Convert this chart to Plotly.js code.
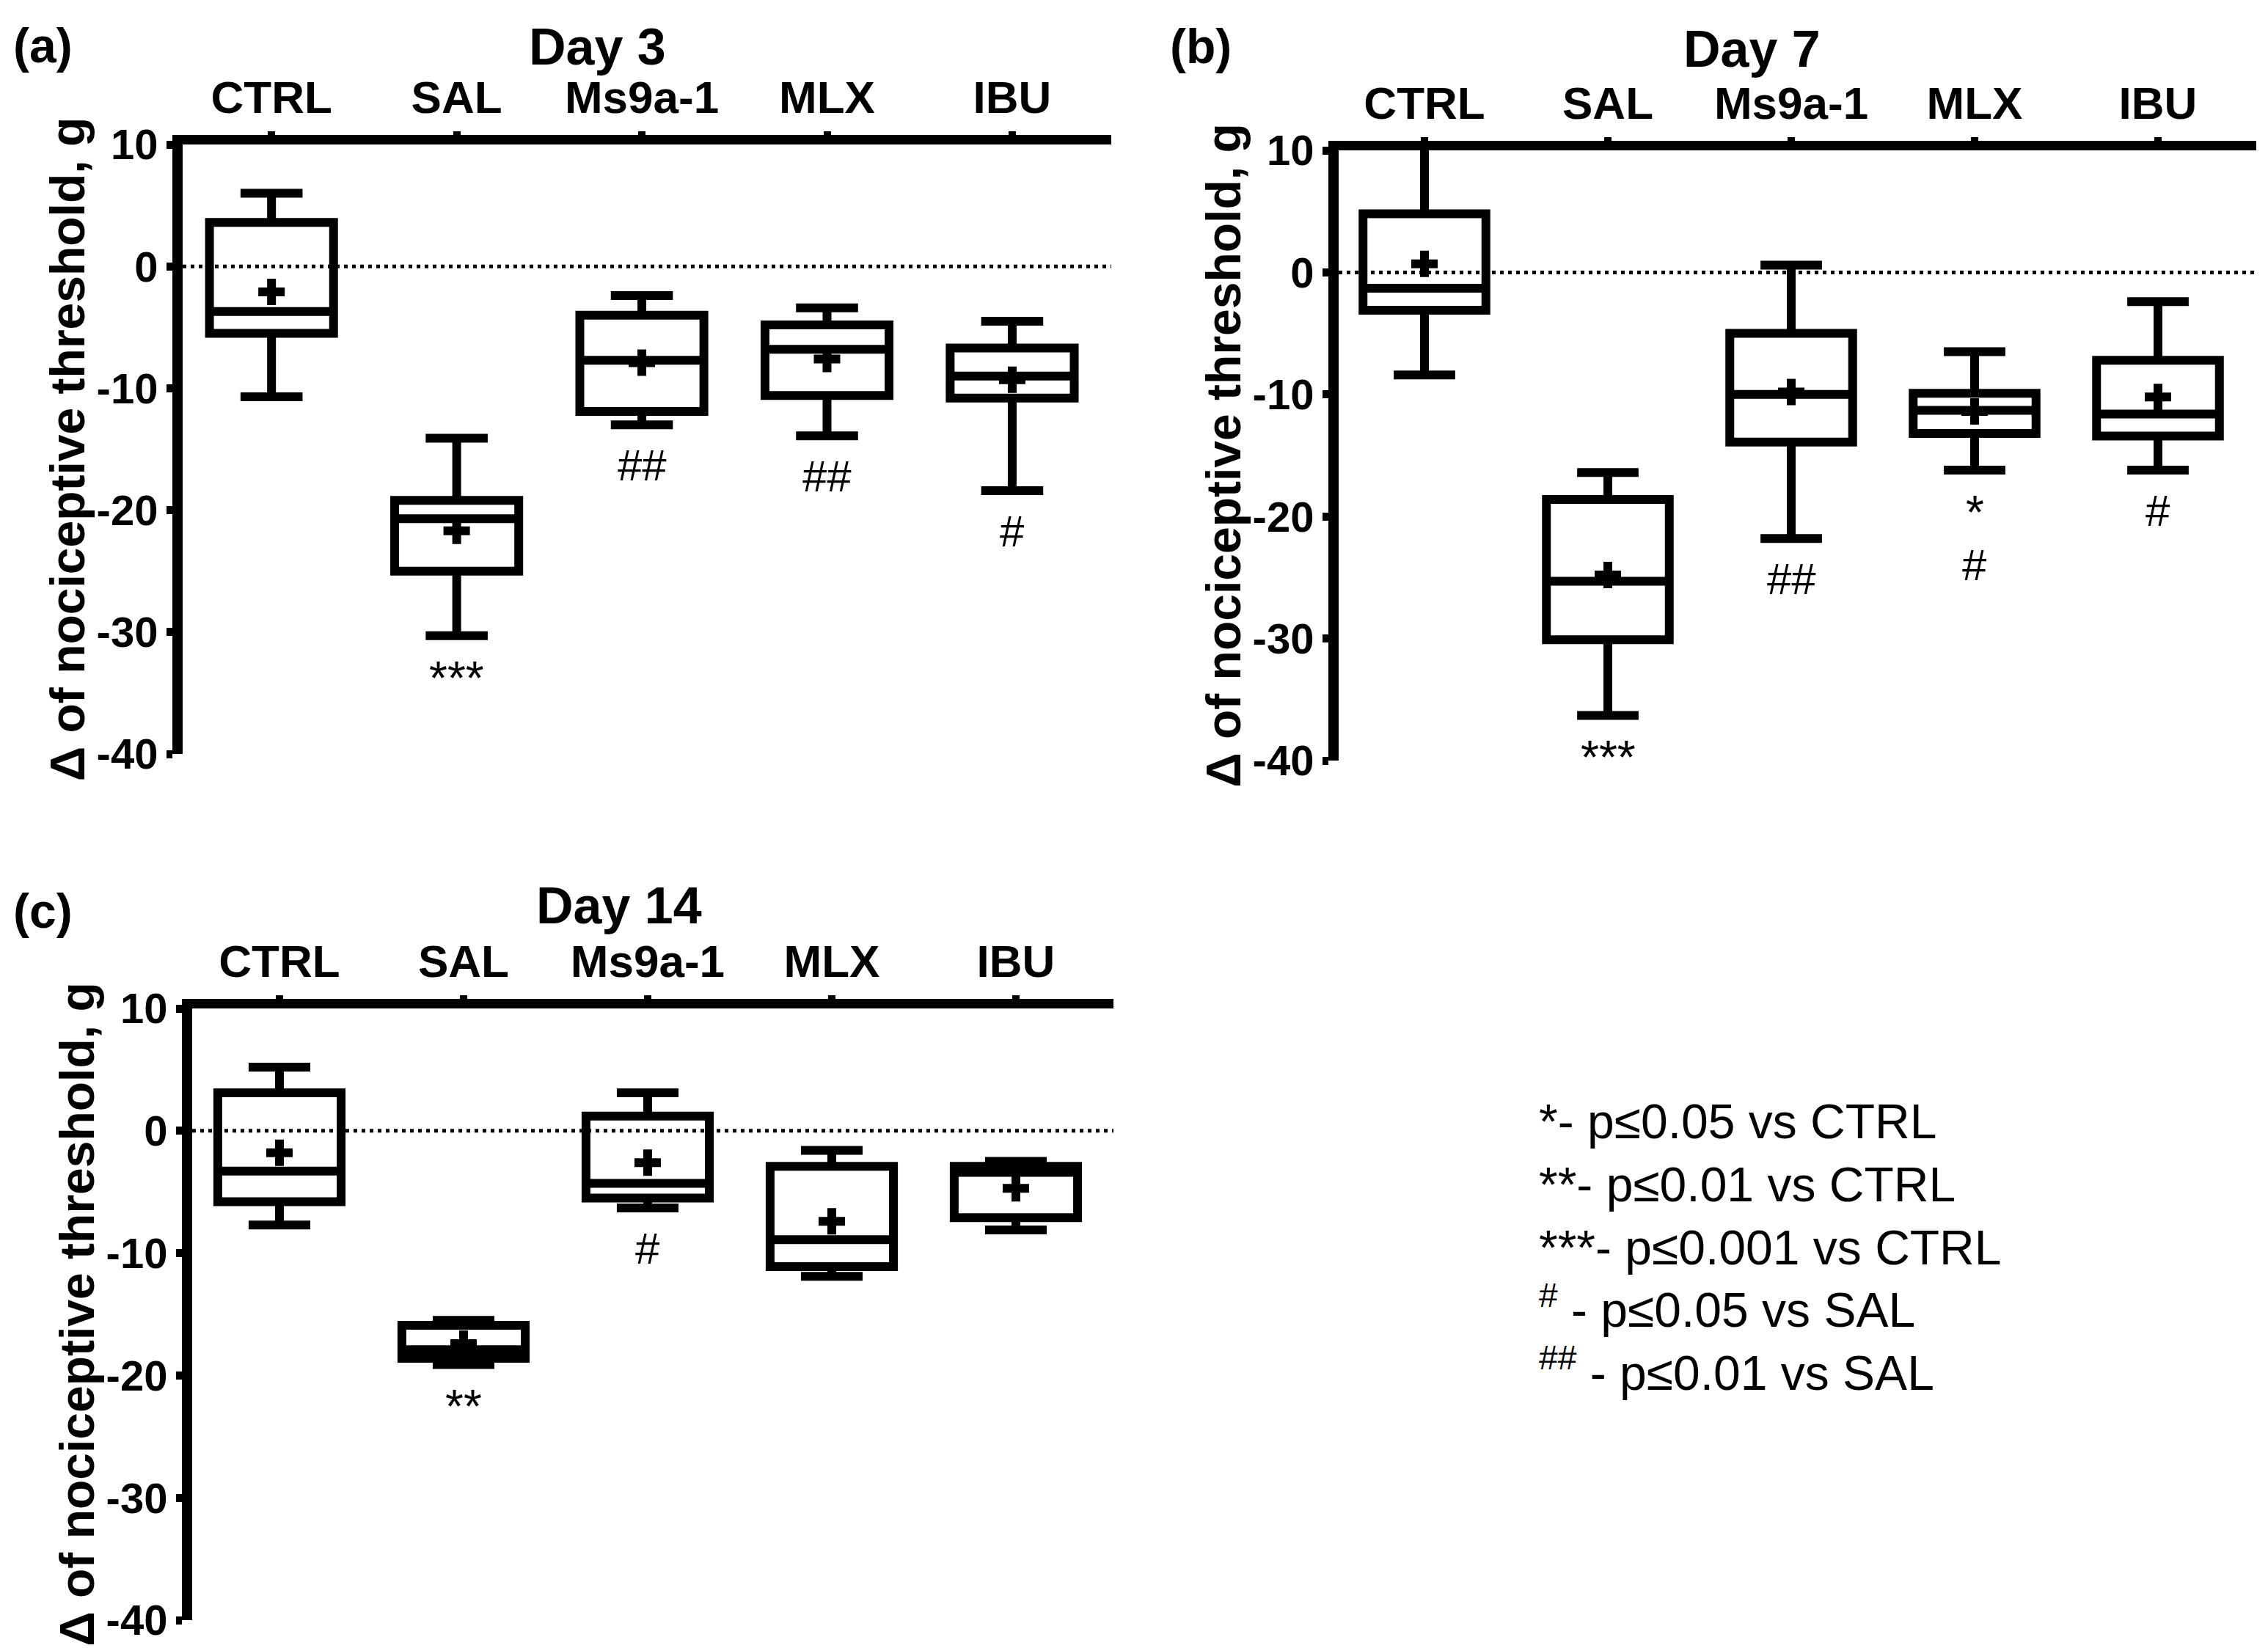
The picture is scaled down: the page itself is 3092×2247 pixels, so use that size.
<!DOCTYPE html>
<html>
<head>
<meta charset="utf-8">
<script src="https://cdn.plot.ly/plotly-3.0.1.min.js"></script>
<style>
html,body{margin:0;padding:0;background:#ffffff;}
#chart{width:3092px;height:2247px;}
</style>
</head>
<body>
<div id="chart"></div>
<script>
// ---------------- DATA ----------------
const categories = ['CTRL', 'SAL', 'Ms9a-1', 'MLX', 'IBU'];
const yTickVals = [10, 0, -10, -20, -30, -40];
const yTickText = ['10', '0', '-10', '-20', '-30', '-40'];

// Day 3
const day3Lower  = [-10.7, -30.3, -13.0, -13.9, -18.4];
const day3Q1     = [-5.5, -25.0, -11.9, -10.6, -10.8];
const day3Median = [-3.7, -20.7, -7.7, -6.8, -9.0];
const day3Q3     = [3.6, -19.2, -4.0, -4.8, -6.7];
const day3Upper  = [6.0, -14.1, -2.4, -3.4, -4.5];
const day3Mean   = [-2.1, -21.7, -7.9, -7.6, -9.3];
const day3VsCtrl = ['', '***', '', '', ''];
const day3VsSal  = ['', '', '##', '##', '#'];

// Day 7
const day7Lower  = [-8.4, -36.3, -21.8, -16.2, -16.2];
const day7Q1     = [-3.1, -30.1, -13.9, -13.2, -13.4];
const day7Median = [-1.3, -25.3, -10.0, -11.3, -11.6];
const day7Q3     = [4.8, -18.6, -5.0, -9.9, -7.2];
const day7Upper  = [10.4, -16.4, 0.6, -6.5, -2.4];
const day7Mean   = [0.7, -24.8, -9.8, -11.4, -10.2];
const day7VsCtrl = ['', '***', '', '*', ''];
const day7VsSal  = ['', '', '##', '#', '#'];

// Day 14
const day14Lower  = [-7.7, -19.1, -6.3, -11.9, -8.1];
const day14Q1     = [-5.8, -18.6, -5.5, -11.1, -7.1];
const day14Median = [-3.3, -17.9, -4.3, -8.9, -3.4];
const day14Q3     = [3.1, -15.9, 1.2, -2.9, -2.9];
const day14Upper  = [5.2, -15.5, 3.1, -1.6, -2.5];
const day14Mean   = [-1.8, -17.4, -2.6, -7.4, -4.7];
const day14VsCtrl = ['', '**', '', '', ''];
const day14VsSal  = ['', '', '#', '', ''];

const panelTitles = ['Day 3', 'Day 7', 'Day 14'];
const panelLabels = ['(a)', '(b)', '(c)'];
const yTitleText = 'Δ of nociceptive threshold, g';
const legendLines = [
  '*- p≤0.05 vs CTRL',
  '**- p≤0.01 vs CTRL',
  '***- p≤0.001 vs CTRL',
  '<sup>#</sup> - p≤0.05 vs SAL',
  '<sup>##</sup> - p≤0.01 vs SAL'
];

// ---------------- LAYOUT / STYLE ----------------
const W = 3092, H = 2247;
const FONT = "'Liberation Sans', Arial, Helvetica, sans-serif";
const px2x = p => p / W;
const px2y = p => 1 - p / H;

const panels = [
  {stats: [day3Lower, day3Q1, day3Median, day3Q3, day3Upper, day3Mean], vsCtrl: day3VsCtrl, vsSal: day3VsSal,
   box: {l: 249, r: 1515, t: 197, b: 1028}, xr: [-0.48, 4.535],
   title: {x: 814, y: 64}, label: {x: 16, y: 62}},
  {stats: [day7Lower, day7Q1, day7Median, day7Q3, day7Upper, day7Mean], vsCtrl: day7VsCtrl, vsSal: day7VsSal,
   box: {l: 1825, r: 3076, t: 205, b: 1037}, xr: [-0.468, 4.536],
   title: {x: 2388, y: 67}, label: {x: 1593, y: 63}},
  {stats: [day14Lower, day14Q1, day14Median, day14Q3, day14Upper, day14Mean], vsCtrl: day14VsCtrl, vsSal: day14VsSal,
   box: {l: 262, r: 1518, t: 1375, b: 2209}, xr: [-0.474, 4.53],
   title: {x: 844, y: 1235}, label: {x: 16, y: 1242}}
];

const traces = [];
const layout = {
  width: W, height: H,
  margin: {l: 0, r: 0, t: 0, b: 0, pad: 0},
  paper_bgcolor: '#ffffff', plot_bgcolor: 'rgba(0,0,0,0)',
  showlegend: false,
  font: {family: FONT, color: '#000000'},
  annotations: [], shapes: []
};

panels.forEach((p, i) => {
  const n = i === 0 ? '' : String(i + 1);
  const xa = 'x' + n, ya = 'y' + n;
  const [lower, q1, med, q3, upper, mean] = p.stats;

  traces.push({
    type: 'box', xaxis: xa, yaxis: ya,
    x: categories, q1: q1, median: med, q3: q3,
    lowerfence: lower, upperfence: upper,
    boxpoints: false, boxmean: false,
    width: 0.67, whiskerwidth: 0.5,
    line: {color: '#000000', width: 12},
    fillcolor: 'rgba(0,0,0,0)',
    hoverinfo: 'skip'
  });
  traces.push({
    type: 'scatter', mode: 'markers', xaxis: xa, yaxis: ya,
    x: categories, y: mean,
    marker: {symbol: 'cross', size: 30, color: '#000000', line: {width: 0}},
    cliponaxis: false, hoverinfo: 'skip'
  });

  layout['xaxis' + n] = {
    domain: [px2x(p.box.l), px2x(p.box.r)],
    anchor: ya, side: 'top', type: 'category',
    categoryorder: 'array', categoryarray: categories,
    range: p.xr, fixedrange: true,
    showline: true, linecolor: '#000000', linewidth: 13,
    ticks: 'outside', ticklen: 5, tickwidth: 10, tickcolor: '#000000',
    tickfont: {family: FONT, size: 62, color: '#000000', weight: 'bold'},
    showgrid: false, zeroline: false
  };
  layout['yaxis' + n] = {
    domain: [px2y(p.box.b), px2y(p.box.t)],
    anchor: xa, range: [-40, 10], fixedrange: true,
    tickmode: 'array', tickvals: yTickVals, ticktext: yTickText,
    showline: true, linecolor: '#000000', linewidth: 14,
    ticks: 'outside', ticklen: 8, tickwidth: 11, tickcolor: '#000000',
    tickfont: {family: FONT, size: 58, color: '#000000', weight: 'bold'},
    showgrid: false, zeroline: false,
    title: {text: yTitleText, standoff: 0,
            font: {family: FONT, size: 66, color: '#000000', weight: 'bold'}}
  };

  // dotted zero line
  layout.shapes.push({
    type: 'line', layer: 'below',
    xref: xa + ' domain', x0: 0, x1: 1,
    yref: ya, y0: 0, y1: 0,
    line: {color: '#000000', width: 5, dash: '5px,6px'}
  });

  // panel title and label
  layout.annotations.push({
    xref: 'paper', yref: 'paper', x: px2x(p.title.x), y: px2y(p.title.y),
    xanchor: 'center', yanchor: 'middle', showarrow: false,
    text: panelTitles[i],
    font: {family: FONT, size: 70, color: '#000000', weight: 'bold'}
  });
  layout.annotations.push({
    xref: 'paper', yref: 'paper', x: px2x(p.label.x), y: px2y(p.label.y),
    xanchor: 'left', yanchor: 'middle', showarrow: false,
    text: panelLabels[i],
    font: {family: FONT, size: 66, color: '#000000', weight: 'bold'}
  });

  // significance marks under lower whiskers
  categories.forEach((c, k) => {
    let shift = -20;
    if (p.vsCtrl[k]) {
      layout.annotations.push({
        xref: xa, yref: ya, x: c, y: lower[k],
        xanchor: 'center', yanchor: 'top', yshift: shift, showarrow: false,
        text: p.vsCtrl[k],
        font: {family: FONT, size: 64, color: '#000000'}
      });
      shift -= 74;
    }
    if (p.vsSal[k]) {
      layout.annotations.push({
        xref: xa, yref: ya, x: c, y: lower[k],
        xanchor: 'center', yanchor: 'top', yshift: shift, showarrow: false,
        text: p.vsSal[k],
        font: {family: FONT, size: 60, color: '#000000'}
      });
    }
  });
});

// legend of significance symbols
layout.annotations.push({
  xref: 'paper', yref: 'paper', x: px2x(2096), y: px2y(1490),
  xanchor: 'left', yanchor: 'top', align: 'left', showarrow: false,
  text: legendLines.join('<br>'),
  font: {family: FONT, size: 66, color: '#000000'}
});

Plotly.newPlot('chart', traces, layout, {displayModeBar: false, staticPlot: true});
</script>
</body>
</html>
